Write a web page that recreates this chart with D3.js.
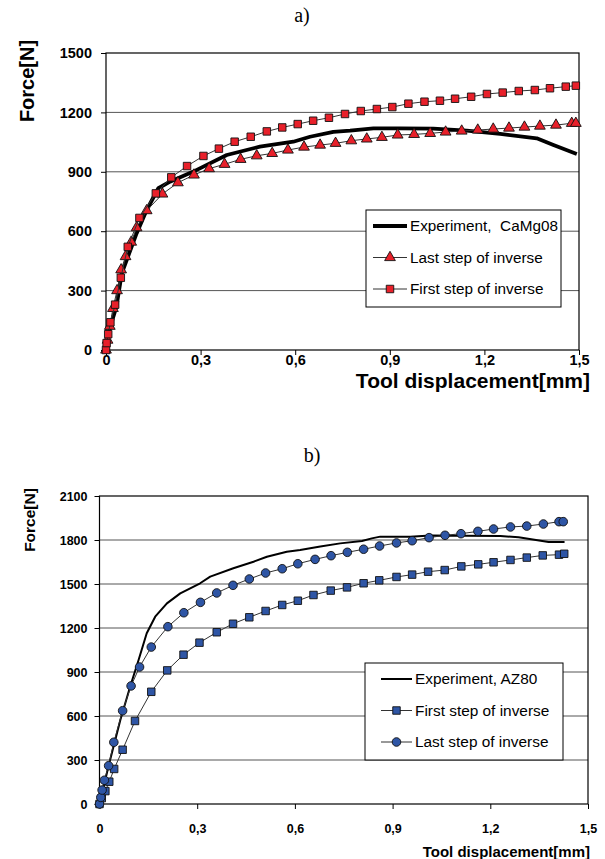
<!DOCTYPE html>
<html>
<head>
<meta charset="utf-8">
<script src="https://cdnjs.cloudflare.com/ajax/libs/d3/7.8.5/d3.min.js"></script>
<style>
  body { margin: 0; background: #fff; }
  svg { display: block; }
</style>
</head>
<body>
<script>
// ---- chart a) data: [displacement mm, force N] ----
const expA = [[0,0],[0.002,50],[0.017,135],[0.033,219],[0.05,387],[0.097,589],[0.129,707],[0.166,817],
  [0.203,850],[0.277,901],[0.383,985],[0.488,1027],[0.594,1052],[0.647,1077],[0.721,1102],[0.774,1108],
  [0.848,1119],[0.932,1119],[1.038,1118],[1.144,1108],[1.25,1091],[1.366,1069],[1.419,1035],[1.493,990]];
const lastA = [[0,0],[0.005,50],[0.012,120],[0.022,210],[0.035,300],[0.048,405],[0.062,472],[0.08,545],
  [0.097,618],[0.129,704],[0.179,788],[0.228,845],[0.279,884],[0.327,916],[0.376,938],[0.427,963],
  [0.478,981],[0.527,993],[0.577,1010],[0.628,1025],[0.679,1035],[0.728,1044],[0.778,1057],[0.827,1066],
  [0.875,1074],[0.925,1086],[0.977,1089],[1.028,1094],[1.077,1101],[1.128,1106],[1.179,1111],[1.228,1116],
  [1.278,1121],[1.327,1126],[1.376,1131],[1.427,1136],[1.477,1145],[1.49,1145]];
const firstA = [[0,0],[0.002,35],[0.007,80],[0.014,140],[0.029,229],[0.047,365],[0.069,521],[0.106,667],
  [0.158,791],[0.207,872],[0.257,929],[0.309,980],[0.358,1017],[0.408,1052],[0.459,1077],[0.51,1104],
  [0.559,1124],[0.608,1141],[0.657,1158],[0.707,1173],[0.758,1192],[0.808,1207],[0.859,1217],[0.908,1227],
  [0.959,1244],[1.01,1254],[1.059,1259],[1.107,1269],[1.158,1279],[1.208,1293],[1.258,1300],[1.309,1308],
  [1.36,1313],[1.408,1322],[1.458,1330],[1.49,1335]];
const yTicksA = [0, 300, 600, 900, 1200, 1500];

// ---- chart b) data ----
const expB = [[0,0],[0.028,261],[0.064,573],[0.094,800],[0.12,982],[0.145,1164],[0.171,1277],[0.207,1368],
  [0.248,1436],[0.309,1505],[0.34,1550],[0.411,1607],[0.473,1652],[0.514,1686],[0.575,1720],[0.616,1732],
  [0.678,1755],[0.739,1777],[0.806,1793],[0.836,1811],[0.862,1823],[0.954,1823],[1.016,1830],[1.231,1827],
  [1.287,1818],[1.379,1786],[1.428,1786]];
const firstB = [[0,0],[0.007,40],[0.018,88],[0.03,152],[0.045,239],[0.071,370],[0.109,566],[0.159,765],
  [0.208,911],[0.258,1018],[0.307,1100],[0.36,1171],[0.41,1229],[0.46,1273],[0.51,1316],[0.561,1357],
  [0.609,1386],[0.657,1425],[0.71,1455],[0.76,1477],[0.811,1505],[0.859,1525],[0.912,1548],[0.96,1564],
  [1.009,1584],[1.06,1595],[1.111,1620],[1.163,1634],[1.21,1648],[1.262,1664],[1.312,1680],[1.361,1695],
  [1.411,1700],[1.427,1706]];
const lastB = [[0,0],[0.004,45],[0.008,95],[0.015,162],[0.028,261],[0.044,421],[0.071,636],[0.097,805],
  [0.123,934],[0.159,1070],[0.21,1209],[0.259,1304],[0.31,1375],[0.36,1439],[0.41,1491],[0.46,1534],
  [0.51,1575],[0.561,1604],[0.609,1638],[0.662,1668],[0.711,1693],[0.761,1716],[0.811,1737],[0.86,1759],
  [0.912,1780],[0.96,1795],[1.012,1816],[1.061,1832],[1.11,1843],[1.162,1859],[1.21,1875],[1.262,1889],
  [1.312,1895],[1.363,1909],[1.411,1925],[1.424,1925]];
const yTicksB = [0, 300, 600, 900, 1200, 1500, 1800, 2100];

const xTicks = [0, 0.3, 0.6, 0.9, 1.2, 1.5];
const fmtX = d => d === 0 ? "0" : d.toFixed(1).replace(".", ",");

const svg = d3.select("body").append("svg")
    .attr("width", 605)
    .attr("height", 859);

const sans = "'Liberation Sans', Arial, sans-serif";
const serif = "'Liberation Serif', 'Times New Roman', serif";

const triangle = d3.symbol().type(d3.symbolTriangle).size(50);
const square = d3.symbol().type(d3.symbolSquare).size(56);
const circle = d3.symbol().type(d3.symbolCircle).size(58);

function drawChart(o) {
    const x = d3.scaleLinear().domain([0, 1.5]).range([o.left, o.right]);
    const y = d3.scaleLinear().domain([0, o.yMax]).range([o.bottom, o.top]);

    svg.append("text")
        .attr("x", o.titleX).attr("y", o.titleY)
        .attr("font-family", serif).attr("font-size", "20px")
        .attr("text-anchor", "middle")
        .text(o.title);

    // grid
    svg.append("g").selectAll("line")
        .data(o.yTicks.filter(d => d > 0 && d < o.yMax))
        .enter().append("line")
        .attr("x1", o.left).attr("x2", o.right)
        .attr("y1", d => y(d)).attr("y2", d => y(d))
        .attr("stroke", "#555").attr("stroke-width", 1);

    // frame
    svg.append("rect")
        .attr("x", o.left).attr("y", o.top)
        .attr("width", o.right - o.left).attr("height", o.bottom - o.top)
        .attr("fill", "none").attr("stroke", "#000").attr("stroke-width", 1.2);

    const yAxis = svg.append("g")
        .attr("transform", `translate(${o.left},0)`)
        .call(d3.axisLeft(y).tickValues(o.yTicks).tickSize(5).tickPadding(o.yPad).tickFormat(d3.format("d")));
    const xAxis = svg.append("g")
        .attr("transform", `translate(0,${o.bottom})`)
        .call(d3.axisBottom(x).tickValues(xTicks).tickSize(5).tickPadding(o.xPad).tickFormat(fmtX));
    [yAxis, xAxis].forEach(a => {
        a.select(".domain").remove();
        a.selectAll("line").attr("stroke", "#000");
        a.selectAll("text")
            .attr("font-family", sans).attr("font-weight", "bold")
            .attr("font-size", o.tickSize).attr("fill", "#000");
    });

    svg.append("text")
        .attr("transform", `translate(${o.yLabelX},${o.yLabelY}) rotate(-90)`)
        .attr("font-family", sans).attr("font-weight", "bold")
        .attr("font-size", o.labelSize)
        .attr("text-anchor", "middle").attr("dominant-baseline", "middle")
        .text("Force[N]");

    svg.append("text")
        .attr("x", o.xLabelX).attr("y", o.xLabelY)
        .attr("font-family", sans).attr("font-weight", "bold")
        .attr("font-size", o.xLabelSize)
        .attr("text-anchor", "end")
        .text("Tool displacement[mm]");

    const line = d3.line().x(d => x(d[0])).y(d => y(d[1]));

    o.series.forEach(s => {
        const g = svg.append("g");
        g.append("path")
            .attr("d", line(s.data))
            .attr("fill", "none")
            .attr("stroke", s.lineColor || "#000")
            .attr("stroke-width", s.width)
            .attr("stroke-linejoin", "round");
        if (s.symbol) {
            g.selectAll("path.m")
                .data(s.data)
                .enter().append("path")
                .attr("class", "m")
                .attr("d", s.symbol)
                .attr("transform", d => `translate(${x(d[0])},${y(d[1])})`)
                .attr("fill", o.markColor)
                .attr("stroke", "#111")
                .attr("stroke-width", 0.9);
        }
    });

    // legend
    const lg = svg.append("g");
    lg.append("rect")
        .attr("x", o.legend.x).attr("y", o.legend.y)
        .attr("width", o.legend.w).attr("height", o.legend.h)
        .attr("fill", "#fff").attr("stroke", "#000").attr("stroke-width", 1);
    o.legend.order.forEach((idx, i) => {
        const s = o.series[idx];
        const ly = o.legend.y + o.legend.first + i * o.legend.step;
        const x0 = o.legend.x + o.legend.lineX0, x1 = x0 + o.legend.lineW;
        lg.append("line")
            .attr("x1", x0).attr("x2", x1).attr("y1", ly).attr("y2", ly)
            .attr("stroke", s.lineColor || "#000").attr("stroke-width", s.width);
        if (s.symbol) {
            lg.append("path")
                .attr("d", s.symbol)
                .attr("transform", `translate(${(x0 + x1) / 2},${ly})`)
                .attr("fill", o.markColor).attr("stroke", "#111").attr("stroke-width", 0.9);
        }
        lg.append("text")
            .attr("x", x1 + 3).attr("y", ly)
            .attr("dy", "0.35em")
            .style("white-space", "pre")
            .attr("font-family", sans).attr("font-size", o.legend.font)
            .text(s.name);
    });
}

drawChart({
    title: "a)", titleX: 302, titleY: 22,
    left: 106, right: 579, top: 53, bottom: 350, yMax: 1500,
    yTicks: yTicksA, yPad: 9, xPad: 0, tickSize: "14.5px",
    labelSize: "20px", yLabelX: 29, yLabelY: 81,
    xLabelSize: "21px", xLabelX: 590, xLabelY: 388,
    markColor: "#e8202a",
    series: [
        {name: "Experiment,  CaMg08", data: expA, width: 3.8},
        {name: "Last step of inverse", data: lastA, width: 1, lineColor: "#333", symbol: triangle},
        {name: "First step of inverse", data: firstA, width: 1, lineColor: "#333", symbol: square}
    ],
    legend: {x: 366, y: 210, w: 195, h: 97, first: 16, step: 31.5, lineX0: 7, lineW: 34, font: "15.3px", order: [0, 1, 2]}
});

drawChart({
    title: "b)", titleX: 312, titleY: 462,
    left: 99.5, right: 588, top: 496, bottom: 804, yMax: 2100,
    yTicks: yTicksB, yPad: 7, xPad: 15, tickSize: "12.5px",
    labelSize: "15.5px", yLabelX: 31, yLabelY: 520,
    xLabelSize: "15px", xLabelX: 590, xLabelY: 857,
    markColor: "#2e55a5",
    series: [
        {name: "Experiment, AZ80", data: expB, width: 2},
        {name: "First step of inverse", data: firstB, width: 1, lineColor: "#333", symbol: square},
        {name: "Last step of inverse", data: lastB, width: 1, lineColor: "#333", symbol: circle}
    ],
    legend: {x: 365, y: 663, w: 198, h: 97, first: 16, step: 31.5, lineX0: 16, lineW: 31, font: "15.4px", order: [0, 1, 2]}
});
</script>
</body>
</html>
